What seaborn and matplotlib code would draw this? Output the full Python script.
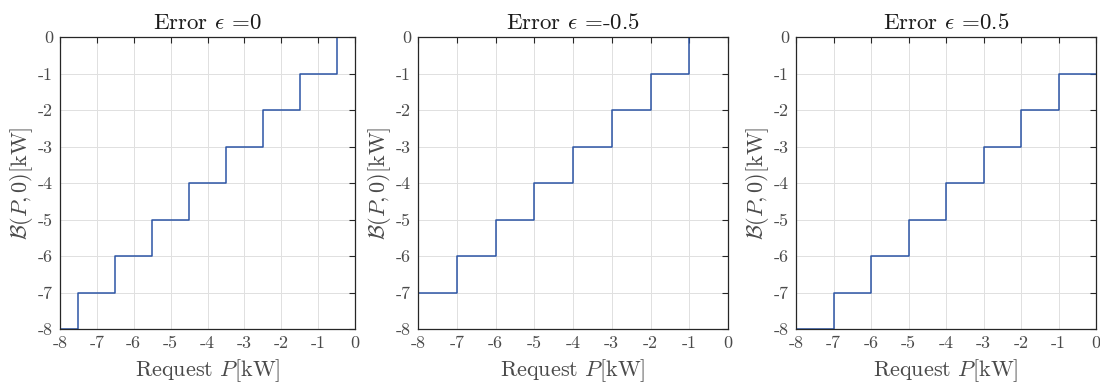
import pandas as pd
import matplotlib
matplotlib.use("Agg")
import matplotlib.pyplot as plt
import seaborn as sns

# step edges (x) and levels (y) for each error value
errors = ["0", "-0.5", "0.5"]
edges_0 = [-8, -7.5, -6.5, -5.5, -4.5, -3.5, -2.5, -1.5, -0.5, 0]
levels_0 = [-8, -7, -6, -5, -4, -3, -2, -1, 0]
edges_m05 = [-8, -8, -7, -6, -5, -4, -3, -2, -1, 0]
levels_m05 = [-8, -7, -6, -5, -4, -3, -2, -1, 0]
edges_p05 = [-8, -7, -6, -5, -4, -3, -2, -1, 0]
levels_p05 = [-8, -7, -6, -5, -4, -3, -2, -1]
ticks = [-8, -7, -6, -5, -4, -3, -2, -1, 0]
tick_labels = ["-8", "-7", "-6", "-5", "-4", "-3", "-2", "-1", "0"]

series = [(edges_0, levels_0), (edges_m05, levels_m05), (edges_p05, levels_p05)]

sns.set_style("white")
plt.rcParams["font.family"] = ["cmr10", "DejaVu Serif"]
plt.rcParams["mathtext.fontset"] = "cm"
plt.rcParams["axes.unicode_minus"] = False
plt.rcParams["axes.formatter.use_mathtext"] = True

W, H = 1100, 390
boxes = [(60, 355), (418, 728), (796, 1096)]
top, bottom = 37, 329

fig = plt.figure(figsize=(11, 3.9), dpi=100)
gray = "#4a4a4a"

for (l, r), (ed, lv), err in zip(boxes, series, errors):
    ax = fig.add_axes([l / W, 1 - bottom / H, (r - l) / W, (bottom - top) / H])
    df = pd.DataFrame({"P": ed, "B": lv + [lv[-1]]})
    sns.lineplot(data=df, x="P", y="B", drawstyle="steps-post", estimator=None,
                 sort=False, color="#2c55a5", linewidth=1.1, ax=ax)
    ax.set_xlim(-8, 0)
    ax.set_ylim(-8, 0)
    ax.set_xticks(ticks)
    ax.set_yticks(ticks)
    ax.set_xticklabels(tick_labels)
    ax.set_yticklabels(tick_labels)
    ax.grid(True, color="#e0e0e0", linewidth=0.7)
    ax.tick_params(direction="in", top=True, right=True, length=4, width=0.8,
                   labelsize=13, colors="#262626", labelcolor=gray, pad=5)
    for s in ax.spines.values():
        s.set_color("#262626")
        s.set_linewidth(0.9)
    ax.set_title(r"Error $\epsilon$ =" + err, fontsize=16.5, color="#1a1a1a", pad=6)
    ax.set_xlabel(r"Request $P$[kW]", fontsize=16, color=gray, labelpad=4)
    ax.set_ylabel(r"$\mathcal{B}(P,0)$[kW]", fontsize=16, color=gray, labelpad=2)

fig.savefig("out.png", dpi=100)
